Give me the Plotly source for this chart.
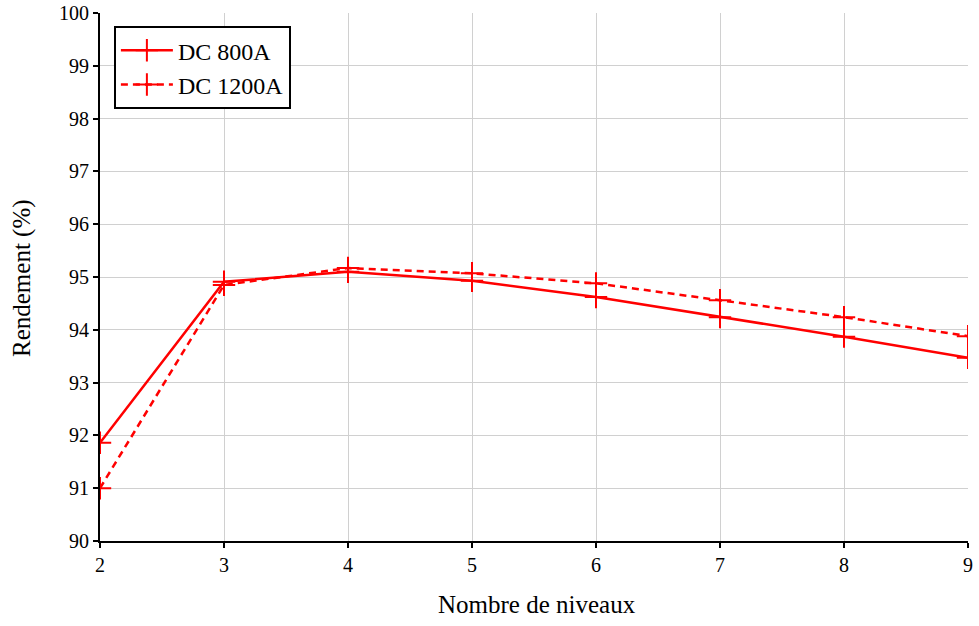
import plotly.graph_objects as go

niveaux = [2, 3, 4, 5, 6, 7, 8, 9]
dc_800a = [91.86, 94.91, 95.10, 94.93, 94.62, 94.24, 93.87, 93.47]
dc_1200a = [91.00, 94.85, 95.17, 95.07, 94.88, 94.56, 94.24, 93.88]
y_ticks = list(range(90, 101))

font_family = "Liberation Serif, Times New Roman, serif"

fig = go.Figure()
fig.add_trace(go.Scatter(
    x=niveaux, y=dc_800a, name="DC 800A", mode="lines+markers",
    line=dict(color="#ff0000", width=2.5),
    marker=dict(symbol="cross-thin", size=16, line=dict(color="#ff0000", width=2)),
))
fig.add_trace(go.Scatter(
    x=niveaux, y=dc_1200a, name="DC 1200A", mode="lines+markers",
    line=dict(color="#ff0000", width=2.5, dash="7px,5px"),
    marker=dict(symbol="cross-thin", size=16, line=dict(color="#ff0000", width=2)),
))

fig.update_layout(
    width=979, height=626,
    margin=dict(l=100, r=11, t=13, b=85),
    plot_bgcolor="white", paper_bgcolor="white",
    font=dict(family=font_family, size=20, color="black"),
    showlegend=True,
    legend=dict(
        x=0.016, y=0.975, xanchor="left", yanchor="top",
        bordercolor="black", borderwidth=2, bgcolor="white",
        font=dict(family=font_family, size=24, color="black"),
        itemwidth=52, tracegroupgap=0,
    ),
    xaxis=dict(
        range=[2, 9], tickvals=niveaux, showgrid=True, gridcolor="#d0d0d0", gridwidth=1,
        showline=True, linecolor="black", linewidth=2, ticks="outside", ticklen=5,
        tickwidth=2, tickcolor="black", zeroline=False, automargin=False,
        tickfont=dict(family=font_family, size=20),
    ),
    yaxis=dict(
        range=[90, 100], tickvals=y_ticks, showgrid=True, gridcolor="#d0d0d0", gridwidth=1,
        showline=True, linecolor="black", linewidth=2, ticks="outside", ticklen=5,
        tickwidth=2, tickcolor="black", zeroline=False, automargin=False,
        tickfont=dict(family=font_family, size=20),
    ),
    annotations=[
        dict(text="Nombre de niveaux", xref="paper", yref="paper", x=0.5035, y=-0.121,
             xanchor="center", yanchor="middle", showarrow=False,
             font=dict(family=font_family, size=25, color="black")),
        dict(text="Rendement (%)", xref="paper", yref="paper", x=-0.0899, y=0.498,
             xanchor="center", yanchor="middle", showarrow=False, textangle=-90,
             font=dict(family=font_family, size=25, color="black")),
    ],
)

fig.write_html("out.html", config={"displayModeBar": False},
               post_script="document.body.style.margin='0';")
